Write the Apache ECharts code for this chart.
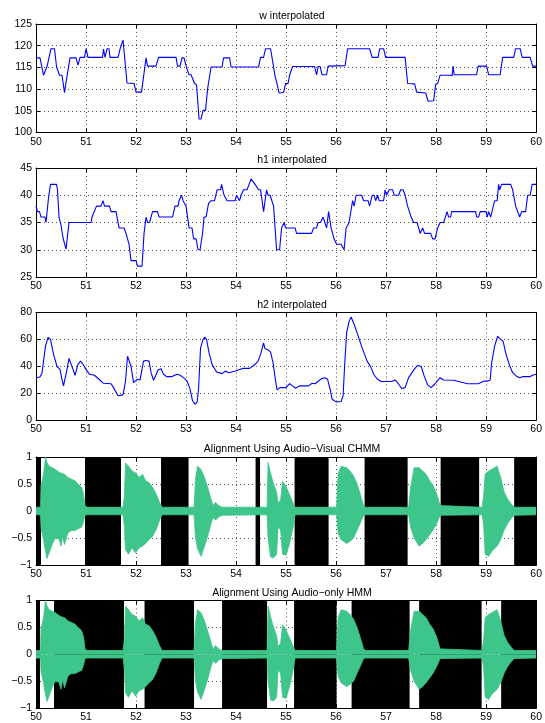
<!DOCTYPE html>
<html><head><meta charset="utf-8">
<script src="https://cdn.jsdelivr.net/npm/echarts@6/dist/echarts.min.js"></script>
<style>html,body{margin:0;padding:0;background:#fff}#c{width:545px;height:723px}</style>
</head><body><div id="c"></div><script>
// ---------- DATA ----------
const titles = ['w interpolated', 'h1 interpolated', 'h2 interpolated',
  'Alignment Using Audio\u2212Visual CHMM', 'Alignment Using Audio\u2212only HMM'];

const wT = [50.00,50.08,50.15,50.18,50.22,50.25,50.30,50.37,50.41,50.44,50.47,50.52,50.57,50.62,50.68,50.80,50.84,50.88,50.97,51.00,51.04,51.33,51.35,51.38,51.42,51.46,51.48,51.64,51.68,51.71,51.74,51.82,51.96,52.00,52.11,52.20,52.23,52.40,52.45,52.80,52.83,52.88,52.92,52.96,53.00,53.06,53.10,53.17,53.21,53.26,53.30,53.34,53.39,53.43,53.50,53.72,53.75,53.87,53.90,54.45,54.49,54.55,54.59,54.69,54.78,54.82,54.86,54.95,54.99,55.04,55.07,55.10,55.13,55.57,55.61,55.64,55.68,55.72,55.81,55.84,56.18,56.23,56.67,56.72,56.84,56.87,56.95,56.99,57.38,57.43,57.57,57.61,57.79,57.84,57.95,57.99,58.03,58.08,58.28,58.32,58.34,58.36,58.81,58.84,59.01,59.05,59.28,59.33,59.55,59.59,59.68,59.72,59.88,59.93,60.00];
const wV = [117.2,117.2,113.2,113.2,115.2,115.3,119.3,119.3,115.2,115.2,113.2,113.2,109.2,113,117.2,117.2,115.5,117.3,117.3,119.3,117.3,117.3,119.2,117.3,119.3,119.3,117.3,117.3,119.2,119.3,121.3,111.4,111.3,109.3,109.3,117.2,115.3,115.3,117.3,117.3,115.3,115.3,117.2,117.2,115.3,113.3,113.3,111.3,111,103.1,103.1,105.1,105.1,110,115.1,115.1,117.2,117.2,115.1,115.1,117.3,117.3,119.3,119.3,113,111.2,109.1,109.2,111.3,111.3,113.2,113.2,115.2,115.2,113.3,115.2,115.2,113.3,113.3,115.3,115.4,119.3,119.3,117.3,117.3,119.3,119.3,117.3,117.3,111.3,111.2,109.3,109.1,107.2,107.3,111.1,111.3,113.2,113.2,113.1,115.3,113.3,113.3,115.3,115.3,113.3,113.3,117.3,117.3,119.3,119.3,117.3,117.3,115.3,115.3];

const h1T = [50.00,50.03,50.07,50.10,50.18,50.20,50.25,50.29,50.41,50.43,50.46,50.50,50.54,50.60,50.66,51.10,51.12,51.15,51.21,51.30,51.34,51.37,51.47,51.50,51.60,51.66,51.76,51.80,51.86,51.90,52.00,52.03,52.12,52.16,52.20,52.23,52.27,52.30,52.33,52.43,52.46,52.73,52.78,52.84,52.86,52.91,52.94,52.97,53.00,53.06,53.12,53.15,53.20,53.24,53.28,53.33,53.36,53.40,53.45,53.50,53.57,53.62,53.69,53.71,53.76,53.82,53.98,54.01,54.04,54.07,54.10,54.15,54.22,54.26,54.30,54.33,54.38,54.45,54.49,54.55,54.61,54.64,54.68,54.75,54.81,54.87,54.91,54.96,54.99,55.18,55.21,55.51,55.55,55.61,55.64,55.69,55.74,55.77,55.81,55.85,55.90,55.96,56.01,56.10,56.16,56.20,56.26,56.33,56.36,56.40,56.51,56.55,56.64,56.67,56.72,56.76,56.79,56.83,56.86,56.95,56.98,57.01,57.06,57.13,57.16,57.25,57.29,57.34,57.38,57.43,57.50,57.55,57.62,57.68,57.73,57.77,57.89,57.93,57.98,58.03,58.08,58.15,58.22,58.25,58.29,58.31,58.79,58.81,58.85,58.88,59.00,59.02,59.05,59.07,59.09,59.12,59.17,59.22,59.25,59.27,59.31,59.49,59.53,59.59,59.62,59.67,59.71,59.79,59.83,59.88,59.92,60.00];
const h1V = [38,37,37,36,36,35,39.5,42,42,41,36,34.5,32.2,30.1,35,35,36,36,38,38,39,38,38,37,37,34,34,33,31,28,28,27,27,33,36,35,35,36,37,37,36,36,38,38,39,40,39,39,38,34,34,32,32,30,30,33,36,36,38.5,39,39,41,41,42,40,39,39,40,40,39,40,41,41,42,43,43,42,41,41,37,41,40,40,38,30,30,34,35,34,34,33,33,34,34,35,35,36,36,34,37,34,32,31,31,30,34,35,39,38,40,40,39,39,38,40,40,39,40,39,39,41,40,41,41,40,40,41,41,40,38,36,35,35,33,34,33,33,32,32,34,35,35,37,36,36,37,37,36,36,37,37,36,37,37,36,36,39,39,42,41,42,42,41,38,38,36,37,37,40,40,42,42];

const h2T = [50.00,50.08,50.12,50.19,50.24,50.26,50.29,50.33,50.36,50.42,50.48,50.52,50.55,50.57,50.62,50.66,50.69,50.74,50.78,50.81,50.84,50.89,50.93,51.00,51.07,51.17,51.26,51.35,51.50,51.53,51.64,51.74,51.79,51.83,51.86,51.90,51.95,52.02,52.08,52.11,52.15,52.19,52.26,52.30,52.35,52.39,52.44,52.50,52.55,52.61,52.72,52.82,52.88,52.95,53.02,53.08,53.13,53.18,53.22,53.25,53.29,53.34,53.37,53.41,53.46,53.52,53.61,53.72,53.79,53.85,53.99,54.13,54.27,54.37,54.44,54.49,54.55,54.58,54.63,54.69,54.74,54.79,54.82,54.88,55.00,55.07,55.13,55.19,55.27,55.45,55.52,55.58,55.65,55.71,55.78,55.83,55.88,55.92,56.00,56.10,56.14,56.17,56.21,56.26,56.30,56.35,56.42,56.52,56.62,56.69,56.76,56.83,56.90,57.11,57.18,57.24,57.31,57.38,57.45,57.56,57.63,57.70,57.76,57.83,57.90,57.97,58.08,58.15,58.35,58.49,58.63,58.84,58.96,59.02,59.08,59.11,59.17,59.23,59.29,59.34,59.39,59.46,59.53,59.60,59.67,59.74,59.88,59.94,60.00];
const h2V = [31.5,32,35,55,61.5,60.5,60,52.5,47.5,40,37.7,30,25.4,26.6,37.7,45.8,45,37.7,33.3,33.7,41.4,43.8,42,37.7,34,33.3,30.3,27.3,27,25.4,18,18.7,29,47.5,48.8,40,27.8,30.3,29.8,30.3,43.8,44.3,43.8,35.2,29.6,32.8,37.2,38.2,34,32.3,32.3,34,33.3,31.5,29,23,14.3,11.8,13,23,53.7,60,61.6,60,50,41.4,35.7,34.5,36.5,35.2,36.5,38.4,38.4,41.1,43.8,48.8,57.4,53,52.5,50.5,42.6,29,22.4,24.1,24.1,27,25.4,23.6,25.4,25.4,27.3,27,29,30.8,31.5,30.3,23,15.5,13.5,13.8,18,40,64.8,73.4,76.6,72.2,64.8,53.7,43.8,39.7,33.5,30.3,28.6,28.6,29.8,27.3,23.4,24.1,31.5,37.7,40.6,40,32.8,26.1,24.1,26.6,31.5,29.8,29.6,28.3,27,27,29,28.8,29.8,42.6,55,62.3,60,58.6,50,41.4,35.2,32.8,31.5,32.3,32.3,33.5,34];

// audio waveform envelope (upper / lower amplitude)
const waveT = [50.00,50.09,50.10,50.15,50.19,50.22,50.26,50.33,50.39,50.46,50.50,50.53,50.57,50.64,50.71,50.78,50.84,50.91,50.95,50.98,51.02,
  51.74,51.77,51.79,51.85,51.92,51.99,52.06,52.13,52.19,52.26,52.33,52.40,52.47,52.52,
  53.16,53.19,53.23,53.30,53.37,53.44,53.50,53.54,53.59,53.65,53.72,
  54.62,54.64,54.69,54.75,54.81,54.84,54.89,54.93,55.00,55.07,55.14,55.18,
  56.01,56.04,56.10,56.21,56.28,56.35,56.42,56.48,56.55,56.59,
  57.45,57.49,57.56,57.66,57.73,57.80,57.87,57.94,58.01,58.08,58.11,
  58.92,58.95,58.98,59.05,59.11,59.22,59.29,59.36,59.43,59.50,59.56,60.00];
const waveUpper = [0.07,0.07,0.47,0.68,1.0,0.9,0.83,0.8,0.77,0.72,0.7,0.69,0.68,0.62,0.59,0.56,0.5,0.44,0.32,0.1,0.07,
  0.07,0.3,0.89,0.83,0.74,0.71,0.62,0.68,0.56,0.53,0.44,0.32,0.16,0.07,
  0.07,0.6,0.83,0.77,0.62,0.41,0.22,0.1,0.16,0.1,0.07,
  0.07,0.9,0.7,0.5,0.35,0.15,0.2,0.55,0.45,0.3,0.15,0.07,
  0.07,0.68,0.83,0.8,0.74,0.65,0.5,0.32,0.1,0.07,
  0.07,0.44,0.8,0.8,0.74,0.68,0.56,0.47,0.32,0.1,0.07,
  0.07,0.28,0.68,0.74,0.77,0.83,0.62,0.35,0.22,0.13,0.07,0.07];
const waveLower = [-0.07,-0.07,-0.32,-0.53,-0.75,-0.88,-0.78,-0.6,-0.5,-0.52,-0.65,-0.48,-0.62,-0.4,-0.36,-0.36,-0.33,-0.3,-0.2,-0.08,-0.07,
  -0.07,-0.3,-0.72,-0.8,-0.68,-0.78,-0.68,-0.65,-0.6,-0.53,-0.47,-0.35,-0.17,-0.07,
  -0.07,-0.5,-0.7,-0.84,-0.65,-0.44,-0.23,-0.12,-0.17,-0.11,-0.08,
  -0.07,-0.5,-0.85,-0.87,-0.8,-0.3,-0.35,-0.8,-0.82,-0.6,-0.3,-0.07,
  -0.07,-0.41,-0.53,-0.6,-0.56,-0.5,-0.35,-0.23,-0.08,-0.07,
  -0.07,-0.3,-0.5,-0.65,-0.6,-0.53,-0.44,-0.35,-0.23,-0.08,-0.07,
  -0.07,-0.26,-0.8,-0.84,-0.75,-0.65,-0.53,-0.35,-0.23,-0.14,-0.08,-0.07];

// unaligned (black) intervals
const avBlackBands = [[50,50.1],[50.98,51.7],[52.5,53.05],[54.39,54.48],[55.17,55.85],[56.57,57.43],[58.09,58.86],[59.56,60]];
const aoBlackBands = [[50,50.08],[50.36,51.76],[52.17,53.16],[53.72,54.62],[55.16,56.01],[56.31,57.47],[57.66,58.91],[59.3,60]];

const yRanges = [[100,125,5],[25,45,5],[0,80,20],[-1,1,0.5],[-1,1,0.5]];
const xMin = 50, xMax = 60, xStep = 1;

// ---------- LAYOUT ----------
const FONT = '"Liberation Sans", Arial, Helvetica, sans-serif';
const gridLeft = 36, gridWidth = 502;
const gridTops = [24, 168, 312.5, 457, 600.5];
const gridHeights = [108.5, 109, 107.5, 108, 108.5];
const BLUE = '#0000ff', GREEN = '#3dc58a';

const pairs = (a, b) => a.map((t, i) => [t, b[i]]);
const fmtNum = v => String(v).replace('-', '\u2212');

const grid = [], xAxis = [], yAxis = [], title = [], series = [];
gridTops.forEach((top, i) => {
  grid.push({left: gridLeft, top: top, width: gridWidth, height: gridHeights[i]});
  title.push({text: titles[i], left: gridLeft + gridWidth / 2, top: top - 18, textAlign: 'center',
    textStyle: {fontFamily: FONT, fontSize: 10.5, fontWeight: 'normal', color: '#000'}});
  const line = {show: true, onZero: false, lineStyle: {color: '#000', width: 1}};
  const tick = {show: true, inside: true, length: 4, lineStyle: {color: '#000'}};
  const split = {show: true, lineStyle: {color: '#555', width: 1, type: [1, 3]}};
  const [ymin, ymax, ystep] = yRanges[i];
  xAxis.push({gridIndex: i, type: 'value', position: 'bottom', min: xMin, max: xMax, interval: xStep,
    axisLine: line, axisTick: tick, splitLine: split,
    axisLabel: {fontFamily: FONT, fontSize: 10.5, color: '#000', margin: 4}});
  xAxis.push({gridIndex: i, type: 'value', position: 'top', min: xMin, max: xMax, interval: xStep,
    axisLine: line, axisTick: tick, splitLine: {show: false}, axisLabel: {show: false}});
  yAxis.push({gridIndex: i, type: 'value', position: 'left', min: ymin, max: ymax, interval: ystep,
    axisLine: line, axisTick: tick, splitLine: split,
    axisLabel: {fontFamily: FONT, fontSize: 10.5, color: '#000', margin: 4, formatter: fmtNum}});
  yAxis.push({gridIndex: i, type: 'value', position: 'right', min: ymin, max: ymax, interval: ystep,
    axisLine: line, axisTick: tick, splitLine: {show: false}, axisLabel: {show: false}});
});

const lineData = [pairs(wT, wV), pairs(h1T, h1V), pairs(h2T, h2V)];
lineData.forEach((d, i) => {
  series.push({type: 'line', xAxisIndex: 2 * i, yAxisIndex: 2 * i, data: d, showSymbol: false,
    symbol: 'none', lineStyle: {color: BLUE, width: 1.1}, z: 3});
});

[avBlackBands, aoBlackBands].forEach((bands, k) => {
  const gi = 3 + k;
  series.push({type: 'custom', xAxisIndex: 2 * gi, yAxisIndex: 2 * gi, data: bands, z: 1, clip: true,
    renderItem: (params, api) => {
      const p1 = api.coord([api.value(0), 1]);
      const p2 = api.coord([api.value(1), -1]);
      return {type: 'rect', shape: {x: p1[0], y: p1[1], width: p2[0] - p1[0], height: p2[1] - p1[1]},
        style: {fill: '#000'}};
    }});
  series.push({type: 'line', xAxisIndex: 2 * gi, yAxisIndex: 2 * gi, data: pairs(waveT, waveUpper),
    symbol: 'none', lineStyle: {color: GREEN, width: 0.8}, areaStyle: {color: GREEN, opacity: 1}, z: 2});
  series.push({type: 'line', xAxisIndex: 2 * gi, yAxisIndex: 2 * gi, data: pairs(waveT, waveLower),
    symbol: 'none', lineStyle: {color: GREEN, width: 0.8}, areaStyle: {color: GREEN, opacity: 1}, z: 2});
});

const chart = echarts.init(document.getElementById('c'), null, {renderer: 'canvas'});
chart.setOption({animation: false, backgroundColor: '#fff', title, grid, xAxis, yAxis, series});
</script></body></html>
